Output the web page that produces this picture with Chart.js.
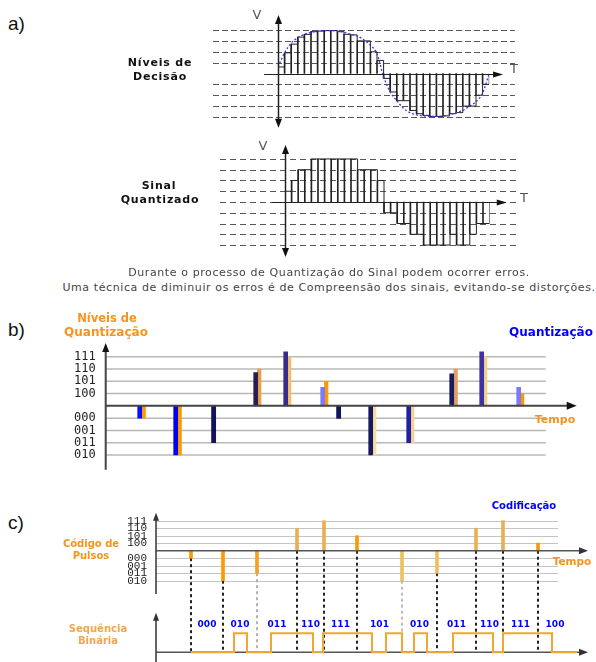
<!DOCTYPE html>
<html lang="pt-BR">
<head>
<meta charset="utf-8">
<title>Quantização e Codificação</title>
<script src="https://cdn.jsdelivr.net/npm/chart.js@4.4.1/dist/chart.umd.min.js"></script>
<style>
  html, body { margin: 0; padding: 0; background: #fff; }
  #pagina { position: relative; width: 596px; height: 662px; overflow: hidden; font-family: "DejaVu Sans", Verdana, sans-serif; }
  canvas { position: absolute; }
  .txt { position: absolute; white-space: nowrap; line-height: 1; transform: translate(-50%, -50%); }
  .letra { position: absolute; font-family: "Liberation Sans", Arial, sans-serif; font-size: 19px; line-height: 1; transform: translateY(-50%); color: #111; }
  .preto { font-weight: bold; font-size: 11px; letter-spacing: 0.8px; color: #111; }
  .laranja { font-weight: bold; color: #f7931e; }
  .azul { font-weight: bold; color: #0000ff; }
  .legenda { font-size: 11px; letter-spacing: 0.6px; color: #444; }
  .eixoV { font-size: 13px; color: #555; }
</style>
</head>
<body>
<div id="pagina">
  <canvas id="gA1" width="330" height="140" style="left:200px;top:0px"></canvas>
  <canvas id="gA2" width="330" height="130" style="left:200px;top:135px"></canvas>
  <canvas id="gB" width="556" height="180" style="left:40px;top:300px"></canvas>
  <canvas id="gC" width="536" height="180" style="left:60px;top:490px"></canvas>

  <div class="letra" style="left:8px;top:23px">a)</div>
  <div class="letra" style="left:8px;top:329px">b)</div>
  <div class="letra" style="left:8px;top:522px">c)</div>

  <div class="txt eixoV" style="left:257px;top:14px">V</div>
  <div class="txt eixoV" style="left:514px;top:68px">T</div>
  <div class="txt preto" style="left:160px;top:62px">Níveis de</div>
  <div class="txt preto" style="left:160px;top:76px">Decisão</div>

  <div class="txt eixoV" style="left:263px;top:145px">V</div>
  <div class="txt eixoV" style="left:524px;top:197px">T</div>
  <div class="txt preto" style="left:159px;top:185px">Sinal</div>
  <div class="txt preto" style="left:160px;top:199px">Quantizado</div>

  <div class="txt legenda" style="left:329px;top:272px">Durante o processo de Quantização do Sinal podem ocorrer erros.</div>
  <div class="txt legenda" style="left:329px;top:287px">Uma técnica de diminuir os erros é de Compreensão dos sinais, evitando-se distorções.</div>

  <div class="txt laranja" style="left:107px;top:319px;font-size:11.5px">Níveis de</div>
  <div class="txt laranja" style="left:106px;top:332px;font-size:12px">Quantização</div>
  <div class="txt azul" style="left:551px;top:332px;font-size:12px">Quantização</div>
  <div class="txt laranja" style="left:555px;top:419px;font-size:11px">Tempo</div>

  <div class="txt azul" style="left:524px;top:506px;font-size:10px">Codificação</div>
  <div class="txt laranja" style="left:91px;top:544px;font-size:10px">Código de</div>
  <div class="txt laranja" style="left:91px;top:556px;font-size:10px">Pulsos</div>
  <div class="txt laranja" style="left:572px;top:561px;font-size:10.5px">Tempo</div>
  <div class="txt laranja" style="left:98px;top:629px;font-size:10px;color:#f5a54a">Sequência</div>
  <div class="txt laranja" style="left:98px;top:641px;font-size:10px;color:#f5a54a">Binária</div>
</div>

<script>
// a) sinal amostrado, em unidades de nível de decisão (uma amostra por intervalo)
const amostrasSinal = [0.6, 1.9, 2.7, 3.35, 3.6, 3.85, 3.9, 3.95, 3.95, 3.85, 3.6, 3.55, 3.0, 3.0, 2.0, 1.2,
  -0.45, -1.7, -2.5, -2.5, -3.4, -3.7, -3.85, -3.95, -3.95, -3.9, -3.7, -3.6, -3.0, -3.0, -2.0, -1.0];
const curvaSinal = [0.6, 1.9, 2.8, 3.3, 3.6, 3.8, 3.9, 3.95, 3.95, 3.9, 3.8, 3.6, 3.45, 3.1, 2.6, 1.8,
  -0.3, -1.7, -2.5, -3.2, -3.6, -3.8, -3.9, -3.95, -3.95, -3.9, -3.8, -3.6, -3.4, -3.0, -2.6, -1.8, 0];
const niveisDecisao = [4, 3, 2, 1, -1, -2, -3, -4];

// a) sinal quantizado
const sinalQuantizado = [1, 2, 3, 3, 4, 4, 4, 4, 4, 4, 4, 3, 3, 3, 2,
  -1, -1, -2, -2, -3, -3, -4, -4, -4, -4, -3, -4, -4, -3, -2, -2];
const niveisQuantizado = [4, 3, 2, 1, 0, -1, -2, -3, -4];

// b) níveis de quantização
const rotulosNiveis = ['111', '110', '101', '100', '000', '001', '011', '010'];
const valoresNiveis = [4, 3, 2, 1, -1, -2, -3, -4];
const tempoB = [34, 70, 108, 150, 180, 217, 233, 265, 303, 346, 376, 413];
const amostraB = [-1, -4, -3, 2.7, 4.4, 1.5, -1, -4, -3, 2.6, 4.4, 1.5];
const tempoQuantB = [38, 74, 108, 153.5, 183.5, 220.5, 233, 268.5, 306.5, 350, 379.5, 416.5];
const quantB = [-1, -4, -3, 3, 4, 2, -1, -4, -3, 3, 4, 1];

// c) código de pulsos e sequência binária
const tempoC = [35, 67, 101, 141, 168, 201, 246, 281, 320, 347, 382];
const pulsosC = [-1, -4, -3, 3, 4, 2, -4, -3, 3, 4, 1];
const codigosC = ['000', '010', '011', '110', '111', '101', '010', '011', '110', '111', '100'];
const fimCodigos = 416;
const tempoBin = [35, 78, 91, 115, 157, 167, 216, 230, 246, 258, 271, 297, 337, 347, 396, 421];
const nivelBin = [0, 1, 0, 1, 0, 1, 0, 1, 0, 1, 0, 1, 0, 1, 0, 0];

// cores
const corAmostraB = ['#0a0aff', '#0000ee', '#12125e', '#2a1a5a', '#3a2a8c', '#7a7aff',
  '#12125e', '#181860', '#2020a0', '#1a1a5e', '#4030a0', '#7a7aff'];
const corQuantB = ['#ff9900', '#ff9900', '#12125e', '#e8a040', '#f0c070', '#ff9900',
  '#12125e', '#f8dca0', '#f5d090', '#e0a060', '#f5d090', '#ff9900'];
const corPulsosC = ['#ff9900', '#ff9900', '#f5a020', '#e8b050', '#e8b050', '#ff9900',
  '#f0c060', '#f0c060', '#e8b050', '#e8b050', '#ff9900'];
const corTracoC = ['#222', '#222', '#9a9a9a', '#222', '#222', '#222', '#a8a8a8', '#222', '#222', '#222', '#222'];

Chart.defaults.font.family = '"DejaVu Sans", Verdana, sans-serif';

function seta(ctx, x, y, dir, comp, larg) {
    ctx.beginPath();
    if (dir === 'direita') {
        ctx.moveTo(x, y); ctx.lineTo(x - comp, y - larg); ctx.lineTo(x - comp, y + larg);
    } else if (dir === 'cima') {
        ctx.moveTo(x, y); ctx.lineTo(x - larg, y + comp); ctx.lineTo(x + larg, y + comp);
    } else {
        ctx.moveTo(x, y); ctx.lineTo(x - larg, y - comp); ctx.lineTo(x + larg, y - comp);
    }
    ctx.closePath();
    ctx.fill();
}

function linha(ctx, x0, y0, x1, y1) {
    ctx.beginPath();
    ctx.moveTo(x0, y0);
    ctx.lineTo(x1, y1);
    ctx.stroke();
}

// guias tracejadas e eixos com setas dos gráficos do item a)
function eixosSinal(cfg) {
    return {
        id: 'eixosSinal',
        beforeDatasetsDraw(chart) {
            const { ctx, scales: { x, y } } = chart;
            ctx.save();
            ctx.strokeStyle = '#575757';
            ctx.lineWidth = 1;
            ctx.setLineDash(cfg.traco);
            const x0 = x.getPixelForValue(cfg.guiaDe), x1 = x.getPixelForValue(cfg.guiaAte);
            cfg.niveis.forEach(n => {
                const py = Math.round(y.getPixelForValue(n)) + 0.5;
                linha(ctx, x0, py, x1, py);
            });
            ctx.restore();
        },
        afterDatasetsDraw(chart) {
            const { ctx, scales: { x, y } } = chart;
            const y0 = Math.round(y.getPixelForValue(0)) + 0.5;
            const xe = Math.round(x.getPixelForValue(0)) + 0.5;
            const ponta = x.getPixelForValue(cfg.setaT);
            ctx.save();
            ctx.strokeStyle = '#222';
            ctx.fillStyle = '#111';
            ctx.lineWidth = 1;
            linha(ctx, x.getPixelForValue(cfg.eixoDe), y0, ponta - 6, y0);
            seta(ctx, ponta, y0, 'direita', 10, 3);
            const topo = y.getPixelForValue(cfg.vTopo), base = y.getPixelForValue(cfg.vBase);
            ctx.lineWidth = 1.5;
            linha(ctx, xe, topo + 6, xe, base - 6);
            seta(ctx, xe, topo, 'cima', 9, 3.5);
            seta(ctx, xe, base, 'baixo', 9, 3.5);
            ctx.restore();
        }
    };
}

function graficoSinal(id, valores, curva, cfg) {
    const datasets = [
        {
            type: 'line',
            data: valores.map((v, i) => ({ x: i, y: v })).concat([{ x: valores.length, y: 0 }]),
            stepped: true,
            borderColor: '#222',
            borderWidth: 1,
            pointRadius: 0
        },
        {
            type: 'bar',
            data: valores.map((v, i) => ({ x: i, y: v })),
            backgroundColor: '#222',
            barThickness: 1,
            grouped: false
        }
    ];
    if (curva) {
        datasets.unshift({
            type: 'line',
            data: curva.map((v, i) => ({ x: i, y: v })),
            borderColor: '#3a3ae8',
            borderWidth: 1.3,
            borderDash: [2, 2],
            cubicInterpolationMode: 'monotone',
            pointRadius: 0
        });
    }
    return new Chart(document.getElementById(id), {
        type: 'bar',
        data: { datasets },
        options: {
            responsive: false,
            animation: false,
            devicePixelRatio: 1,
            layout: { padding: cfg.padding },
            plugins: { legend: { display: false }, tooltip: { enabled: false } },
            scales: {
                x: { type: 'linear', min: 0, max: valores.length, offset: false, display: false, ticks: { stepSize: 4 } },
                y: { min: -4.6, max: 4.6, display: false }
            }
        },
        plugins: [eixosSinal(cfg)]
    });
}

graficoSinal('gA1', amostrasSinal, curvaSinal, {
    padding: { left: 78, right: 40.8, top: 23.5, bottom: 16.5 },
    niveis: niveisDecisao, traco: [6, 3],
    guiaDe: -9.85, guiaAte: 35.9, eixoDe: -2.1, setaT: 34.1, vTopo: 5.38, vBase: -5.0
});

graficoSinal('gA2', sinalQuantizado, null, {
    padding: { left: 85, right: 40.4, top: 17.5, bottom: 13.5 },
    niveis: niveisQuantizado, traco: [6, 4],
    guiaDe: -9.85, guiaAte: 35.6, eixoDe: -2.0, setaT: 33.6, vTopo: 5.3, vBase: -5.1
});

function eixoNiveis(largura, fonte, padding, min, max) {
    return {
        min: min, max: max,
        afterBuildTicks: axis => { axis.ticks = valoresNiveis.map(v => ({ value: v })); },
        afterFit: axis => {
            axis.width = largura;
            axis.paddingTop = 0;
            axis.paddingBottom = 0;
        },
        grid: { display: false, drawTicks: false },
        border: { display: false },
        ticks: {
            autoSkip: false,
            padding: padding,
            color: '#222',
            font: fonte,
            callback: v => rotulosNiveis[valoresNiveis.indexOf(v)]
        }
    };
}

// b) amostras (azul) e níveis de quantização (laranja)
new Chart(document.getElementById('gB'), {
    type: 'bar',
    data: {
        datasets: [
            { data: tempoB.map((t, i) => ({ x: t, y: amostraB[i] })), backgroundColor: corAmostraB, barThickness: 4, grouped: false },
            { data: tempoQuantB.map((t, i) => ({ x: t, y: quantB[i] })), backgroundColor: corQuantB, barThickness: 3.5, grouped: false }
        ]
    },
    options: {
        responsive: false,
        animation: false,
        devicePixelRatio: 1,
        layout: { padding: { left: 0, right: 18.3, top: 49.3, bottom: 17.6 } },
        plugins: { legend: { display: false }, tooltip: { enabled: false } },
        scales: {
            x: { type: 'linear', min: 0, max: 472, offset: false, display: false },
            y: eixoNiveis(65.7, { family: '"DejaVu Sans Mono", monospace', size: 12 }, 10, -4.6, 4.6)
        }
    },
    plugins: [{
        id: 'eixosB',
        beforeDatasetsDraw(chart) {
            const { ctx, scales: { x, y } } = chart;
            ctx.save();
            ctx.strokeStyle = '#b8b8b8';
            ctx.lineWidth = 1.5;
            valoresNiveis.forEach(v => {
                const py = y.getPixelForValue(v);
                linha(ctx, x.getPixelForValue(0), py, x.getPixelForValue(440), py);
            });
            ctx.restore();
        },
        afterDatasetsDraw(chart) {
            const { ctx, scales: { x, y } } = chart;
            const y0 = y.getPixelForValue(0), xe = x.getPixelForValue(0), ponta = x.getPixelForValue(471);
            ctx.save();
            ctx.strokeStyle = '#444';
            ctx.fillStyle = '#111';
            ctx.lineWidth = 2;
            linha(ctx, xe, y0, ponta - 6, y0);
            seta(ctx, ponta, y0, 'direita', 10, 4);
            const topo = y.getPixelForValue(5.11);
            linha(ctx, xe, topo + 6, xe, y.getPixelForValue(-5.2));
            seta(ctx, xe, topo, 'cima', 9, 3.5);
            ctx.restore();
        }
    }]
});

// c) código de pulsos e sequência binária
new Chart(document.getElementById('gC'), {
    type: 'bar',
    data: {
        datasets: [
            { data: tempoC.map((t, i) => ({ x: t, y: pulsosC[i] })), backgroundColor: corPulsosC, barThickness: 3, grouped: false },
            {
                type: 'line',
                yAxisID: 'y2',
                data: tempoBin.map((t, i) => ({ x: t, y: nivelBin[i] })),
                stepped: true,
                borderColor: '#f2a634',
                borderWidth: 2,
                pointRadius: 0
            }
        ]
    },
    options: {
        responsive: false,
        animation: false,
        devicePixelRatio: 1,
        layout: { padding: { left: 0, right: 6, top: 15, bottom: 8 } },
        plugins: { legend: { display: false }, tooltip: { enabled: false } },
        scales: {
            x: { type: 'linear', min: 0, max: 434, offset: false, display: false },
            y: eixoNiveis(96, { family: '"Liberation Mono", monospace', size: 11 }, 9, -14.84, 6.09),
            y2: { position: 'left', min: -0.51, max: 7.75, display: false }
        }
    },
    plugins: [{
        id: 'eixosC',
        beforeDatasetsDraw(chart) {
            const { ctx, scales: { x, y, y2 } } = chart;
            ctx.save();
            ctx.strokeStyle = '#c4c4c4';
            ctx.lineWidth = 1;
            valoresNiveis.forEach(v => {
                const py = Math.round(y.getPixelForValue(v)) + 0.5;
                linha(ctx, x.getPixelForValue(0), py, x.getPixelForValue(402), py);
            });
            // linhas tracejadas ligando cada pulso à sequência binária
            tempoC.forEach((t, i) => {
                const px = x.getPixelForValue(t);
                ctx.strokeStyle = corTracoC[i];
                ctx.lineWidth = corTracoC[i] === '#222' ? 2 : 1.5;
                ctx.setLineDash([3, 3]);
                linha(ctx, px, y.getPixelForValue(Math.min(0, pulsosC[i])), px, y2.getPixelForValue(0));
            });
            ctx.setLineDash([]);
            // linha de base da sequência binária
            const xe = x.getPixelForValue(0), ponta = x.getPixelForValue(432);
            const b0 = y2.getPixelForValue(0);
            ctx.strokeStyle = '#555';
            ctx.fillStyle = '#333';
            ctx.lineWidth = 1.5;
            linha(ctx, xe, b0, ponta - 6, b0);
            seta(ctx, ponta, b0, 'direita', 9, 3.5);
            ctx.restore();
        },
        afterDatasetsDraw(chart) {
            const { ctx, scales: { x, y, y2 } } = chart;
            const xe = x.getPixelForValue(0), ponta = x.getPixelForValue(432);
            const y0 = y.getPixelForValue(0);
            ctx.save();
            ctx.strokeStyle = '#555';
            ctx.fillStyle = '#333';
            ctx.lineWidth = 1.5;
            linha(ctx, xe, y0, ponta - 6, y0);
            seta(ctx, ponta, y0, 'direita', 9, 3.5);
            ctx.strokeStyle = '#333';
            const topo = y.getPixelForValue(5.07);
            linha(ctx, xe, topo + 5, xe, y.getPixelForValue(-5.77));
            seta(ctx, xe, topo, 'cima', 8, 3);
            const topo2 = y2.getPixelForValue(2.08);
            linha(ctx, xe, topo2 + 5, xe, y2.getPixelForValue(-0.6));
            seta(ctx, xe, topo2, 'cima', 8, 3);
            // códigos de 3 bits sobre a sequência binária
            ctx.fillStyle = '#0000ff';
            ctx.font = 'bold 9px "DejaVu Sans", Verdana, sans-serif';
            ctx.textAlign = 'center';
            ctx.textBaseline = 'middle';
            const yc = y2.getPixelForValue(1.44);
            codigosC.forEach((c, i) => {
                const fim = i + 1 < tempoC.length ? tempoC[i + 1] : fimCodigos;
                ctx.fillText(c, x.getPixelForValue((tempoC[i] + fim) / 2), yc);
            });
            ctx.restore();
        }
    }]
});
</script>
</body>
</html>
